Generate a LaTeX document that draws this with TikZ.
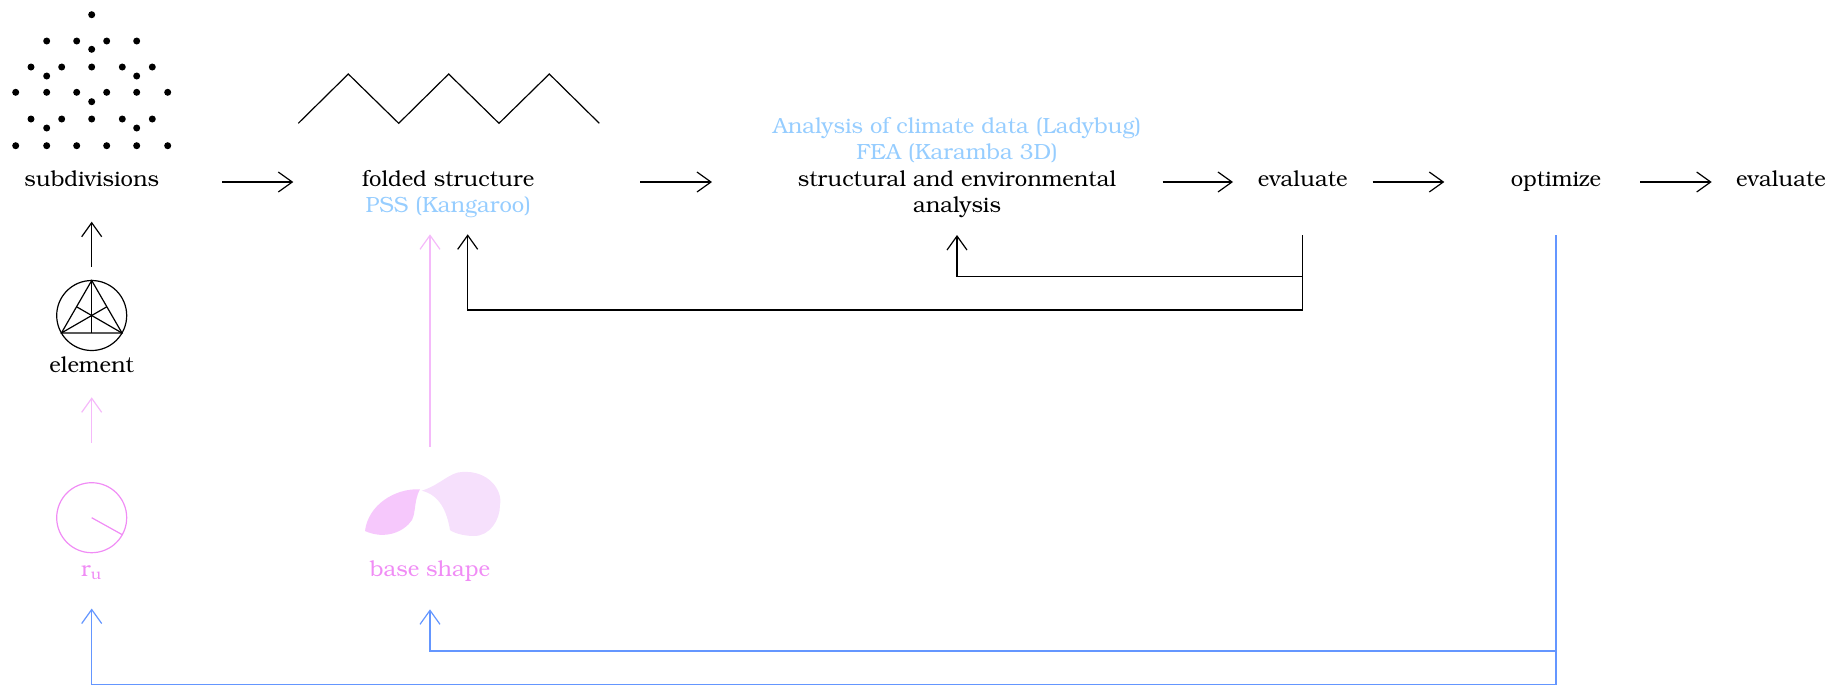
\documentclass[tikz,border=0pt]{standalone}
\usepackage[T1]{fontenc}
\usepackage{bookman}
\usetikzlibrary{arrows.meta,calc}

\definecolor{lblue}{RGB}{150,205,255}
\definecolor{pinktext}{RGB}{240,140,245}
\definecolor{pinkline}{RGB}{245,185,250}
\definecolor{fbblue}{RGB}{100,150,255}
\definecolor{petalA}{RGB}{246,200,252}
\definecolor{petalB}{RGB}{246,224,252}

\tikzset{
  lbl/.style={inner sep=0pt, anchor=base, text depth=0pt, font=\fontsize{11pt}{13pt}\selectfont},
  flow/.style={draw=black, line width=0.6pt, -{Straight Barb[length=7pt,width=10pt]}},
  pinkflow/.style={flow, draw=pinkline},
  blueflow/.style={flow, draw=fbblue},
  dot/.style={fill=black},
  ring/.style={circle, draw, line width=0.6pt, minimum size=35pt, inner sep=0pt},
}

\begin{document}
\begin{tikzpicture}[x=0.5pt, y=-0.5pt]
\useasboundingbox (0,0) rectangle (1842,687);

% subdivided triangle points
\foreach \p in {(91.7,14.7),
  (46.7,41),(76.7,41),(106.7,41),(136.7,41),(91.7,49.3),
  (31,67),(61.7,67),(91.7,67),(122.3,67),(152.3,67),(46.7,76),(136.7,76),
  (15.7,92.3),(46.7,92.3),(76.7,92.3),(106.7,92.3),(136.7,92.3),(167.7,92.3),(91.7,101.7),
  (31,119),(61.7,119),(91.7,119),(122.3,119),(152.3,119),(46.7,128),(136.7,128),
  (15.7,145.7),(46.7,145.7),(76.7,145.7),(106.7,145.7),(136.7,145.7),(167.7,145.7)}
  \fill[dot] \p circle[radius=3.5];

% folded profile
\draw[line width=0.6pt] (298.3,123.3) -- (348.3,74) -- (398.7,123.3) -- (448.7,74)
  -- (499,123.3) -- (549.3,74) -- (599.3,123.3);

% labels of the main chain
\node[lbl] (sub)   at (91.7,186)   {subdivisions};
\node[lbl] (fold)  at (448.3,186)  {folded structure};
\node[lbl, text=lblue] (pss) at (448.3,212) {PSS (Kangaroo)};
\node[lbl, text=lblue] (clim) at (957,133) {Analysis of climate data (Ladybug)};
\node[lbl, text=lblue] (fea)  at (957,159.5) {FEA (Karamba 3D)};
\node[lbl] (ana)   at (957,186)    {structural and environmental};
\node[lbl] (ana2)  at (957,212.5)  {analysis};
\node[lbl] (eval1) at (1302.7,186) {evaluate};
\node[lbl] (opt)   at (1556,186)   {optimize};
\node[lbl] (eval2) at (1781,186)   {evaluate};

% element symbol
\node[ring] (elemsym) at (91.7,315.5) {};
\draw[line width=0.6pt] ($(elemsym)+(0,-35)$) -- ($(elemsym)+(-30.3,17.5)$) -- ($(elemsym)+(30.3,17.5)$) -- cycle;
\draw[line width=0.6pt] ($(elemsym)+(0,-35)$) -- ($(elemsym)+(0,17.5)$);
\draw[line width=0.6pt] ($(elemsym)+(-30.3,17.5)$) -- ($(elemsym)+(15.15,-8.75)$);
\draw[line width=0.6pt] ($(elemsym)+(30.3,17.5)$) -- ($(elemsym)+(-15.15,-8.75)$);
\node[lbl] (elem) at (91.7,372) {element};

% radius symbol
\node[ring, draw=pinktext] (ru) at (91.7,517.7) {};
\draw[pinktext, line width=0.6pt] (ru.center) -- ($(ru)+(30.6,17)$);
\node[lbl, text=pinktext] (rulbl) at (91.7,576) {r\textsubscript{u}};

% base shape
\node[minimum width=70pt, minimum height=32pt, inner sep=0pt] (base) at (430,504.4) {};
\fill[petalA] (365,531) .. controls (368,505) and (395,488) .. (420,489.3)
  .. controls (414,500) and (416,512) .. (412,520)
  .. controls (404,532) and (385,540) .. cycle;
\fill[petalB] (421.7,490.7) .. controls (440,485) and (450,472) .. (462,472)
  .. controls (488,470) and (503,490) .. (500,505)
  .. controls (500,520) and (490,536) .. (474,536)
  .. controls (462,536) and (452,532) .. (450,530)
  .. controls (447,512) and (440,495) .. cycle;
\node[lbl, text=pinktext] (baselbl) at (430,576) {base shape};

% forward chain
\draw[flow] ($(sub.base)+(130.6,-4)$) -- ($(fold.base)+(-155,-4)$);
\draw[flow] ($(fold.base)+(191.7,-4)$) -- ($(ana.base)+(-245,-4)$);
\draw[flow] ($(ana.base)+(205.7,-4)$) -- ($(eval1.base)+(-69.7,-4)$);
\draw[flow] ($(eval1.base)+(70,-4)$) -- ($(opt.base)+(-111.7,-4)$);
\draw[flow] ($(opt.base)+(84,-4)$) -- ($(eval2.base)+(-69.3,-4)$);

% inputs from below
\draw[flow] ($(elemsym.center)+(0,-48.8)$) -- ($(sub.base)+(0,35.7)$);
\draw[pinkflow] ($(ru.center)+(0,-74.8)$) -- ($(elem.base)+(0,25.3)$);
\draw[pinkflow] ($(base.center)+(0,-57.7)$) -- ($(base.center |- pss.base)+(0,22.3)$);

% feedback from evaluation
\draw[flow] ($(eval1.base)+(0,49)$) -- ($(eval1.base)+(0,90.7)$) -| ($(ana2.base)+(0,22.5)$);
\draw[flow] ($(eval1.base)+(0,49)$) -- ($(eval1.base)+(0,124)$) -| ($(pss.base)+(19.4,22.3)$);

% feedback from optimisation
\draw[blueflow] ($(opt.base)+(0,49)$) -- ($(opt.base)+(0,465)$) -| ($(baselbl.base)+(0,33.3)$);
\draw[blueflow] ($(opt.base)+(0,49)$) -- ($(opt.base)+(0,498.5)$) -| ($(rulbl.base)+(0,32.5)$);
\end{tikzpicture}
\end{document}
